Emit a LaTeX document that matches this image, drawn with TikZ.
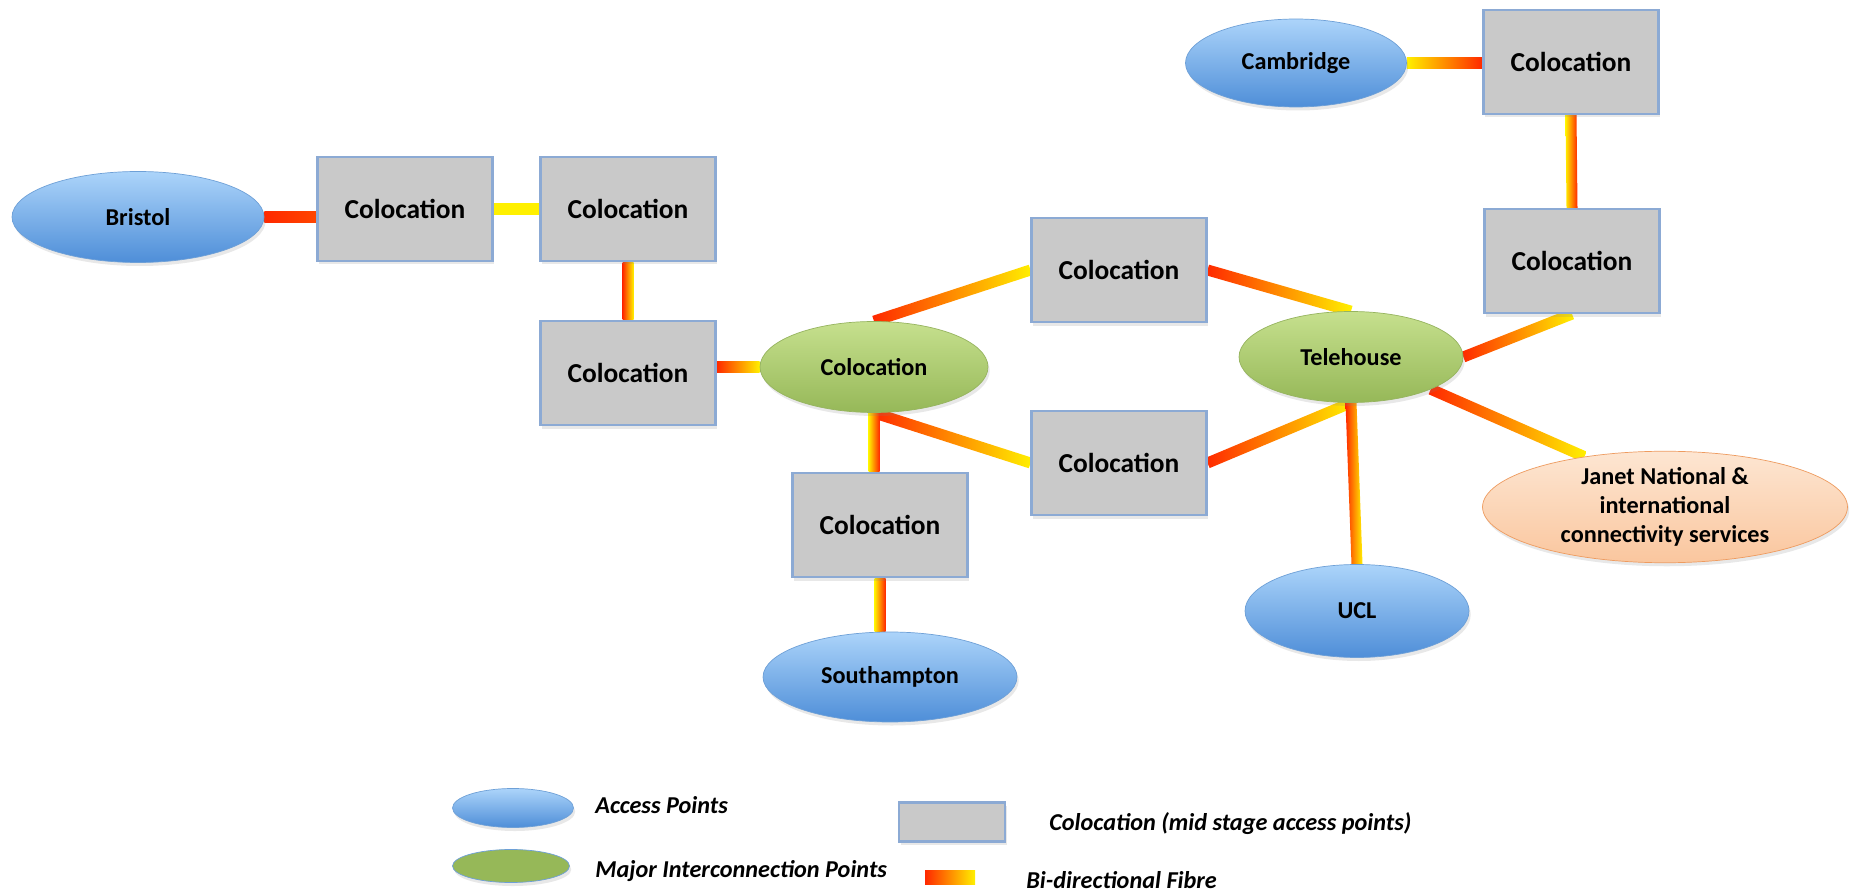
\documentclass[tikz,border=0pt]{standalone}
\usepackage{fontspec}
\setmainfont{Carlito}
\usepackage{tikz}
\usetikzlibrary{shapes.geometric,calc,backgrounds,shadows}
\definecolor{fRed}{RGB}{255,40,0}
\definecolor{fYellow}{RGB}{255,240,0}
\definecolor{accTop}{RGB}{172,212,250}
\definecolor{accBot}{RGB}{78,142,216}
\definecolor{accLine}{RGB}{110,160,215}
\definecolor{majTop}{RGB}{198,224,142}
\definecolor{majBot}{RGB}{150,184,88}
\definecolor{majLine}{RGB}{150,180,95}
\definecolor{janTop}{RGB}{253,230,210}
\definecolor{janBot}{RGB}{250,198,158}
\definecolor{janLine}{RGB}{238,155,95}
\definecolor{boxFill}{RGB}{201,201,201}
\definecolor{boxLine}{RGB}{140,170,212}
\tikzstyle{lbl}=[font=\fontsize{13.8}{16.5}\selectfont\bfseries]
\tikzstyle{shadowed}=[drop shadow={opacity=0.18,shadow xshift=1pt,shadow yshift=-2pt}]
\tikzstyle{access}=[ellipse,draw=accLine,top color=accTop,bottom color=accBot,inner sep=0pt,lbl,shadowed]
\tikzstyle{major}=[ellipse,draw=majLine,top color=majTop,bottom color=majBot,inner sep=0pt,lbl,shadowed]
\tikzstyle{coloc}=[rectangle,draw=boxLine,line width=1.2pt,fill=boxFill,minimum width=3.5cm,minimum height=2.08cm,font=\fontsize{15.6}{19}\selectfont\bfseries,shadowed]
\tikzstyle{legtext}=[anchor=west,inner sep=0pt,font=\fontsize{13.8}{16.5}\selectfont\bfseries\itshape]
\newcommand{\fibrew}{0.11cm}
\newcommand{\fibre}[4]{%
  \shade[left color=#3,right color=#4]
    ($(#1)!\fibrew!90:(#2)$) -- ($(#2)!\fibrew!-90:(#1)$) --
    ($(#2)!\fibrew!90:(#1)$) -- ($(#1)!\fibrew!-90:(#2)$) -- cycle;}

\begin{document}
\begin{tikzpicture}[x=0.02cm,y=-0.02cm]
\useasboundingbox (0,0) rectangle (1853,891);

\node[access,minimum width=5.04cm,minimum height=1.82cm] (bristol) at (138,217) {Bristol};
\node[coloc] (b1) at (405,209) {Colocation};
\node[coloc] (b2) at (628,209) {Colocation};
\node[coloc] (b3) at (628,373) {Colocation};
\node[major,minimum width=4.56cm,minimum height=1.82cm] (hub) at (874,367) {Colocation};
\node[coloc] (m1) at (1119,270) {Colocation};
\node[coloc] (m2) at (1119,463) {Colocation};
\node[coloc] (s1) at (880,525) {Colocation};
\node[access,minimum width=5.08cm,minimum height=1.8cm] (soton) at (890,677) {Southampton};
\node[major,minimum width=4.48cm,minimum height=1.82cm] (tele) at (1351,357) {Telehouse};
\node[access,minimum width=4.48cm,minimum height=1.86cm] (ucl) at (1357,611) {UCL};
\node[ellipse,draw=janLine,top color=janTop,bottom color=janBot,inner sep=0pt,lbl,shadowed,
  align=center,minimum width=7.3cm,minimum height=2.08cm] (janet) at (1665,507)
  {Janet National \&\\international\\connectivity services};
\node[access,minimum width=4.42cm,minimum height=1.76cm] (camb) at (1296,63) {Cambridge};
\node[coloc] (r1) at (1571,62) {Colocation};
\node[coloc] (r2) at (1572,261) {Colocation};

% legend
\node[access,minimum width=2.42cm,minimum height=0.78cm] (keyaccess) at (513,808) {};
\node[legtext] (keyaccesstxt) at (595,805) {Access Points};
\node[ellipse,draw=accLine,fill=majBot,minimum width=2.34cm,minimum height=0.66cm,shadowed] (keymajor) at (511,866) {};
\node[legtext] (keymajortxt) at (595,871) {Major Interconnection Points};
\node[coloc,minimum width=2.12cm,minimum height=0.78cm] (keycoloc) at (952,822) {};
\node[legtext] (keycoloctxt) at (1049,824) {Colocation (mid stage access points)};
\node[left color=fRed,right color=fYellow,minimum width=1cm,minimum height=0.28cm,inner sep=0pt] (keyfibre) at (950,877) {};
\node[legtext] (keyfibretxt) at (1026,880) {Bi-directional Fibre};

\begin{pgfonlayer}{background}
\fill[white] (0,0) rectangle (1853,891);
\fibre{bristol.east}{bristol.east -| b1.west}{fRed}{fRed!85!fYellow}
\fibre{b1.east}{b2.west}{fYellow}{fYellow}
\fibre{b2.south}{b3.north}{fRed}{fYellow}
\fibre{b3.east |- hub.west}{hub.west}{fRed}{fYellow}
\fibre{hub.north}{m1.west}{fRed}{fYellow}
\fibre{hub.south}{m2.west}{fRed}{fYellow}
\fibre{hub.south}{hub.south |- s1.north}{fYellow}{fRed}
\fibre{s1.south}{s1.south |- soton.north}{fYellow}{fRed}
\fibre{m1.east}{tele.north}{fRed}{fYellow}
\fibre{m2.east}{tele.south}{fRed}{fYellow}
\fibre{tele.south}{ucl.north}{fRed}{fYellow}
\fibre{tele.-22}{janet.148}{fRed}{fYellow}
\fibre{tele.east}{r2.south}{fRed}{fYellow}
\fibre{camb.east}{camb.east -| r1.west}{fYellow}{fRed}
\fibre{r1.south}{r2.north}{fYellow}{fRed}
\end{pgfonlayer}
\end{tikzpicture}
\end{document}
